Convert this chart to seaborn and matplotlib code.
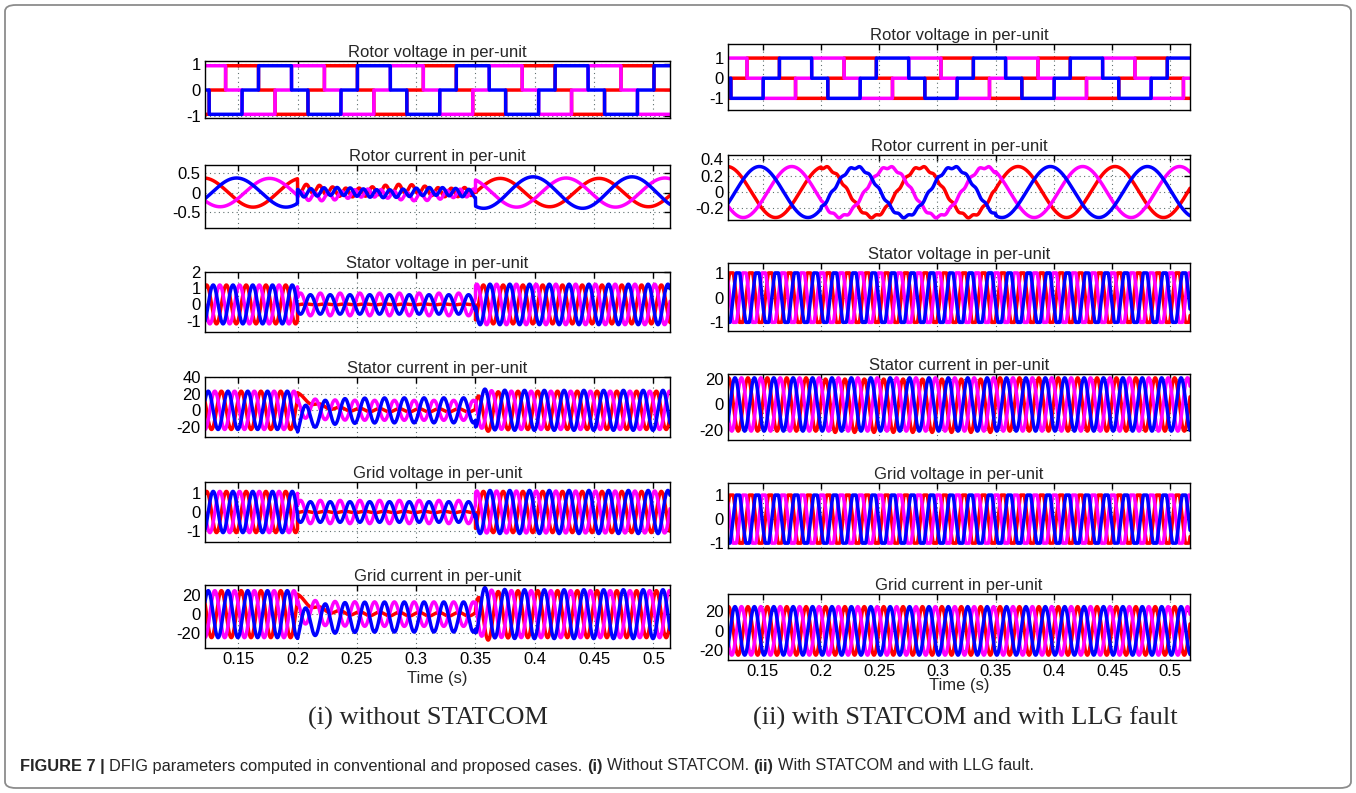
import numpy as np
import pandas as pd
import matplotlib
matplotlib.use("Agg")
import matplotlib.pyplot as plt
import seaborn as sns
from matplotlib.patches import FancyBboxPatch

# ---------------------------------------------------------------- data
PHASES = ["a", "b", "c"]                       # drawn red, magenta, blue
PHASE_COLORS = ["#ff0000", "#ff00ff", "#0000ff"]
PHASE_ANGLE_DEG = [120, -120, 0]               # lead relative to the blue phase

FAULT_WINDOW = [0.20, 0.35]                    # s
GRID_HZ = 60
ROTOR_HZ = 12

X_TICKS = [0.15, 0.2, 0.25, 0.3, 0.35, 0.4, 0.45, 0.5]
X_TICK_LABELS = ["0.15", "0.2", "0.25", "0.3", "0.35", "0.4", "0.45", "0.5"]
X_LIMITS_LEFT = [0.122, 0.514]
X_LIMITS_RIGHT = [0.120, 0.517]

PANEL_TITLES = ["Rotor voltage in per-unit", "Rotor current in per-unit",
                "Stator voltage in per-unit", "Stator current in per-unit",
                "Grid voltage in per-unit", "Grid current in per-unit"]

# y ticks / limits, left column (without STATCOM)
L_YTICKS = [[-1, 0, 1], [-0.5, 0, 0.5], [-1, 0, 1, 2], [-20, 0, 20, 40], [-1, 0, 1], [-20, 0, 20]]
L_YLIMS = [[-1.06, 1.10], [-0.9, 0.7], [-1.7, 2.0], [-32, 40], [-1.6, 1.6], [-36, 31]]
# y ticks / limits, right column (with STATCOM)
R_YTICKS = [[-1, 0, 1], [-0.2, 0, 0.2, 0.4], [-1, 0, 1], [-20, 0, 20], [-1, 0, 1], [-20, 0, 20]]
R_YLIMS = [[-1.58, 1.70], [-0.34, 0.45], [-1.35, 1.40], [-28, 24], [-1.2, 1.5], [-30, 38]]

# ---- left column: without STATCOM (per phase: red, magenta, blue)
L_ROTOR_V_LEVEL = [0.92, 0.92, 0.92]
L_ROTOR_V_CENTRE = 0.181
L_ROTOR_I_PEAK = 0.1486
L_ROTOR_I_AMP_PRE = [0.37, 0.36, 0.37]
L_ROTOR_I_AMP_FAULT = [0.05, 0.05, 0.03]
L_ROTOR_I_AMP_POST = [0.36, 0.37, 0.40]
L_ROTOR_I_OFFSET_FAULT = [0.05, -0.06, 0.0]
L_ROTOR_I_RIPPLE_FAULT = [0.11, 0.10, 0.10]

L_STATOR_V_PEAK = 0.1289
L_STATOR_V_AMP_PRE = [1.20, 1.20, 1.20]
L_STATOR_V_AMP_FAULT = [0.03, 0.70, 0.60]
L_STATOR_V_AMP_POST = [1.20, 1.25, 1.25]
L_STATOR_V_SHIFT_FAULT = [0, -30, 30]

L_STATOR_I_PEAK = 0.1247
L_STATOR_I_AMP_PRE = [23, 23, 23]
L_STATOR_I_AMP_FAULT = [2, 12, 15]
L_STATOR_I_AMP_POST = [23, 23, 24]
L_STATOR_I_SHIFT_FAULT = [0, -30, 30]
L_STATOR_I_ONSET = [20, 4, -14]
L_STATOR_I_CLEAR = [-8, 3, 4]

L_GRID_V_PEAK = 0.1289
L_GRID_V_AMP_PRE = [1.10, 1.10, 1.10]
L_GRID_V_AMP_FAULT = [0.04, 0.62, 0.55]
L_GRID_V_AMP_POST = [1.10, 1.12, 1.15]
L_GRID_V_SHIFT_FAULT = [0, -30, 30]

L_GRID_I_PEAK = 0.1247
L_GRID_I_AMP_PRE = [25, 25, 25]
L_GRID_I_AMP_FAULT = [2, 13, 16]
L_GRID_I_AMP_POST = [25, 25, 26]
L_GRID_I_SHIFT_FAULT = [0, -30, 30]
L_GRID_I_OFFSET_FAULT = [0, 0, -3]
L_GRID_I_ONSET = [20, 4, -10]
L_GRID_I_CLEAR = [-10, 3, 6]

# ---- right column: with STATCOM and LLG fault
R_ROTOR_V_LEVEL = [1.0, 1.0, 1.0]
R_ROTOR_V_CENTRE = 0.178
R_ROTOR_I_PEAK = 0.147
R_ROTOR_I_AMP = [0.31, 0.31, 0.31]
R_ROTOR_I_AMP_FAULT = [0.30, 0.30, 0.30]
R_ROTOR_I_RIPPLE_FAULT = [0.015, 0.015, 0.015]

R_STATOR_V_PEAK = 0.1285
R_STATOR_V_AMP = [1.0, 1.0, 1.0]
R_STATOR_I_PEAK = 0.126
R_STATOR_I_AMP = [21, 21, 21]
R_STATOR_I_OFFSET_FAULT = [-1, 0, 0]
R_GRID_V_PEAK = 0.1285
R_GRID_V_AMP = [1.0, 1.0, 1.0]
R_GRID_I_PEAK = 0.126
R_GRID_I_AMP = [25, 25, 25]

N_SAMPLES = 6000


# ---------------------------------------------------------------- waveform builders
def three_phase(t, hz, peak_time, amp_pre, amp_fault, amp_post, shift_fault=(0, 0, 0),
                off_fault=(0, 0, 0), onset=(0, 0, 0), clear=(0, 0, 0), tau_on=0.015,
                tau_clear=0.008, ripple=(0, 0, 0), ripple_hz=90, clip_gain=None):
    f0, f1 = FAULT_WINDOW
    pre = t < f0
    flt = (t >= f0) & (t < f1)
    post = t >= f1
    out = []
    for i in range(3):
        ph = 2 * np.pi * hz * (t - peak_time) + np.radians(PHASE_ANGLE_DEG[i])
        amp = np.where(pre, amp_pre[i], np.where(flt, amp_fault[i], amp_post[i]))
        shift = np.where(flt, np.radians(shift_fault[i]), 0.0)
        y = amp * np.cos(ph + shift)
        if clip_gain is not None:
            y = np.clip(clip_gain * y, -amp, amp)
        y = y + np.where(flt, off_fault[i] + onset[i] * np.exp(-(t - f0) / tau_on), 0.0)
        y = y + np.where(post, clear[i] * np.exp(-(t - f1) / tau_clear), 0.0)
        y = y + np.where(flt, ripple[i] * np.cos(2 * np.pi * ripple_hz * t
                                                  + np.radians(PHASE_ANGLE_DEG[i])), 0.0)
        out.append(y)
    return out


def quasi_square(t, hz, centre, levels):
    out = []
    for i in range(3):
        c = np.cos(2 * np.pi * hz * (t - centre) + np.radians(PHASE_ANGLE_DEG[i]))
        out.append(levels[i] * ((c > 0.5).astype(float) - (c < -0.5).astype(float)))
    return out


t = np.linspace(0.118, 0.52, N_SAMPLES)

left = [
    quasi_square(t, ROTOR_HZ, L_ROTOR_V_CENTRE, L_ROTOR_V_LEVEL),
    three_phase(t, ROTOR_HZ, L_ROTOR_I_PEAK, L_ROTOR_I_AMP_PRE, L_ROTOR_I_AMP_FAULT,
                L_ROTOR_I_AMP_POST, off_fault=L_ROTOR_I_OFFSET_FAULT,
                ripple=L_ROTOR_I_RIPPLE_FAULT, ripple_hz=90),
    three_phase(t, GRID_HZ, L_STATOR_V_PEAK, L_STATOR_V_AMP_PRE, L_STATOR_V_AMP_FAULT,
                L_STATOR_V_AMP_POST, shift_fault=L_STATOR_V_SHIFT_FAULT),
    three_phase(t, GRID_HZ, L_STATOR_I_PEAK, L_STATOR_I_AMP_PRE, L_STATOR_I_AMP_FAULT,
                L_STATOR_I_AMP_POST, shift_fault=L_STATOR_I_SHIFT_FAULT,
                onset=L_STATOR_I_ONSET, clear=L_STATOR_I_CLEAR),
    three_phase(t, GRID_HZ, L_GRID_V_PEAK, L_GRID_V_AMP_PRE, L_GRID_V_AMP_FAULT,
                L_GRID_V_AMP_POST, shift_fault=L_GRID_V_SHIFT_FAULT),
    three_phase(t, GRID_HZ, L_GRID_I_PEAK, L_GRID_I_AMP_PRE, L_GRID_I_AMP_FAULT,
                L_GRID_I_AMP_POST, shift_fault=L_GRID_I_SHIFT_FAULT,
                off_fault=L_GRID_I_OFFSET_FAULT, onset=L_GRID_I_ONSET, clear=L_GRID_I_CLEAR),
]
right = [
    quasi_square(t, ROTOR_HZ, R_ROTOR_V_CENTRE, R_ROTOR_V_LEVEL),
    three_phase(t, ROTOR_HZ, R_ROTOR_I_PEAK, R_ROTOR_I_AMP, R_ROTOR_I_AMP_FAULT,
                R_ROTOR_I_AMP, ripple=R_ROTOR_I_RIPPLE_FAULT, ripple_hz=120),
    three_phase(t, GRID_HZ, R_STATOR_V_PEAK, R_STATOR_V_AMP, R_STATOR_V_AMP, R_STATOR_V_AMP,
                clip_gain=1.2),
    three_phase(t, GRID_HZ, R_STATOR_I_PEAK, R_STATOR_I_AMP, R_STATOR_I_AMP, R_STATOR_I_AMP,
                off_fault=R_STATOR_I_OFFSET_FAULT),
    three_phase(t, GRID_HZ, R_GRID_V_PEAK, R_GRID_V_AMP, R_GRID_V_AMP, R_GRID_V_AMP,
                clip_gain=1.2),
    three_phase(t, GRID_HZ, R_GRID_I_PEAK, R_GRID_I_AMP, R_GRID_I_AMP, R_GRID_I_AMP),
]

rows = []
for side, panels in (("left", left), ("right", right)):
    for p, series in enumerate(panels):
        for ph, y in zip(PHASES, series):
            rows.append(pd.DataFrame({"side": side, "panel": p, "phase": ph,
                                      "time": t, "value": y}))
df = pd.concat(rows, ignore_index=True)

# ---------------------------------------------------------------- styling
sns.set_style("white")
plt.rcParams["font.family"] = ["Liberation Sans", "DejaVu Sans"]
plt.rcParams["axes.unicode_minus"] = False

W, H = 1356, 793
fig = plt.figure(figsize=(W / 100, H / 100), dpi=100)

L_BOX = [(61, 118), (165, 228), (272, 332), (377, 437), (482, 542), (585, 648)]
R_BOX = [(44, 110), (155, 220), (263, 331), (374, 440), (483, 548), (594, 660)]
L_X = (205, 670)
R_X = (728, 1190)

palette = dict(zip(PHASES, PHASE_COLORS))


def make_axes(xr, box):
    x0, x1 = xr
    top, bot = box
    return fig.add_axes([x0 / W, 1 - bot / H, (x1 - x0) / W, (bot - top) / H])


for side, xr, boxes, yticks, ylims, xlim in (
        ("left", L_X, L_BOX, L_YTICKS, L_YLIMS, X_LIMITS_LEFT),
        ("right", R_X, R_BOX, R_YTICKS, R_YLIMS, X_LIMITS_RIGHT)):
    for p in range(6):
        ax = make_axes(xr, boxes[p])
        sub = df[(df.side == side) & (df.panel == p)]
        sns.lineplot(data=sub, x="time", y="value", hue="phase", hue_order=PHASES,
                     palette=palette, estimator=None, sort=False, legend=False,
                     linewidth=2.5, ax=ax)
        ax.set_xlim(*xlim)
        ax.set_ylim(*ylims[p])
        ax.set_xticks(X_TICKS)
        ax.set_yticks(yticks[p])
        ax.set_yticklabels([f"{v:g}" for v in yticks[p]])
        ax.grid(True, linestyle=(0, (1, 3)), color="#5f6f6f", linewidth=0.8)
        ax.set_axisbelow(True)
        for s in ax.spines.values():
            s.set_color("black")
            s.set_linewidth(1.0)
            s.set_visible(True)
        ax.tick_params(direction="in", length=4, width=1, top=True, right=True,
                       labelsize=12, colors="black", pad=3)
        ax.set_title(PANEL_TITLES[p], fontsize=12, pad=3)
        ax.set_ylabel("")
        if p == 5:
            ax.set_xticklabels(X_TICK_LABELS)
            ax.set_xlabel("Time (s)", fontsize=12, labelpad=3 if side == "left" else -1)
        else:
            ax.set_xticklabels([])
            ax.set_xlabel("")

# sub captions
fig.text(428 / W, 1 - 718 / H, "(i) without STATCOM", ha="center", va="center",
         fontsize=19, family=["Liberation Serif", "DejaVu Serif"])
fig.text(965 / W, 1 - 718 / H, "(ii) with STATCOM and with LLG fault", ha="center",
         va="center", fontsize=19, family=["Liberation Serif", "DejaVu Serif"])

# frame
fig.patches.append(FancyBboxPatch((5 / W, 5 / H), (W - 10) / W, (H - 10) / H,
                                  boxstyle="round,pad=0,rounding_size=0.008",
                                  transform=fig.transFigure, fill=False,
                                  edgecolor="#8c8c8c", linewidth=1.3))

# caption with mixed weights
CAPTION_SIZE = 11.8
fig.canvas.draw()
renderer = fig.canvas.get_renderer()
pieces = [("FIGURE 7 |", "bold"), (" ", "normal"),
          ("DFIG parameters computed in conventional and proposed cases.", "normal"),
          (" ", "normal"), ("(i)", "bold"), (" ", "normal"), ("Without STATCOM.", "normal"),
          (" ", "normal"), ("(ii)", "bold"), (" ", "normal"),
          ("With STATCOM and with LLG fault.", "normal")]


def width_px(s, weight):
    if s == " ":
        a = fig.text(0, 0, "x x", fontsize=CAPTION_SIZE, weight=weight)
        b = fig.text(0, 0, "xx", fontsize=CAPTION_SIZE, weight=weight)
        w = a.get_window_extent(renderer).width - b.get_window_extent(renderer).width
        a.remove(); b.remove()
        return w
    tmp = fig.text(0, 0, s, fontsize=CAPTION_SIZE, weight=weight)
    w = tmp.get_window_extent(renderer).width
    tmp.remove()
    return w


x = 20.0
for s, wgt in pieces:
    w = width_px(s, wgt)
    if s != " ":
        fig.text(x / W, 1 - 766 / H, s, fontsize=CAPTION_SIZE, weight=wgt,
                 ha="left", va="center")
    x += w

fig.savefig("out.png", dpi=100)
